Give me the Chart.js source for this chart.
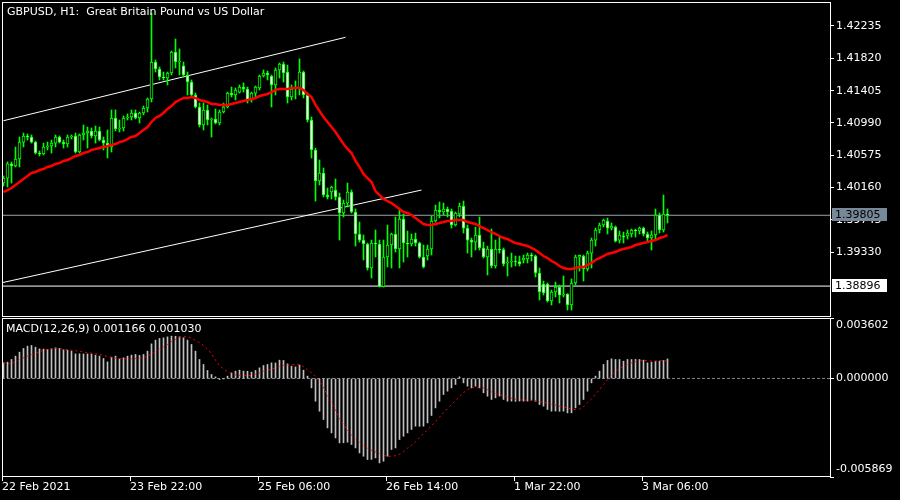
<!DOCTYPE html>
<html>
<head>
<meta charset="utf-8">
<script src="https://cdn.jsdelivr.net/npm/chart.js@4.4.1/dist/chart.umd.min.js"></script>
<style>
  html, body { margin: 0; padding: 0; background: #000; }
  #wrap { position: relative; width: 900px; height: 500px; background: #000; overflow: hidden; }
  #priceChart { position: absolute; left: 0; top: 0; }
  #macdChart { position: absolute; left: 0; top: 318px; }
</style>
</head>
<body>
<div id="wrap">
  <canvas id="priceChart" width="900" height="318"></canvas>
  <canvas id="macdChart" width="900" height="182"></canvas>
</div>
<script>
// GBPUSD H1 bars, 22 Feb 2021 14:00 onwards
var opens = [1.40219,1.40283,1.40464,1.40438,1.40527,1.40745,1.40823,1.40810,1.40745,1.40604,
  1.40592,1.40681,1.40694,1.40732,1.40810,1.40745,1.40720,1.40810,1.40823,1.40617,
  1.40836,1.40861,1.40887,1.40823,1.40887,1.40771,1.40732,1.40681,1.41054,1.40913,
  1.40926,1.41054,1.41067,1.41118,1.41054,1.41118,1.41182,1.41298,1.41773,1.41683,
  1.41580,1.41567,1.41631,1.41901,1.41773,1.41722,1.41606,1.41516,1.41349,1.41195,
  1.40964,1.41157,1.41028,1.41041,1.40990,1.41131,1.41195,1.41374,1.41349,1.41387,
  1.41452,1.41426,1.41285,1.41374,1.41439,1.41593,1.41631,1.41593,1.41478,1.41670,
  1.41747,1.41644,1.41324,1.41426,1.41439,1.41644,1.41349,1.41028,1.40643,1.40245,
  1.40347,1.40065,1.40104,1.40129,1.40040,1.39834,1.39962,1.40104,1.39847,1.39565,
  1.39487,1.39436,1.39128,1.39449,1.39436,1.38890,1.39269,1.39423,1.39565,1.39372,
  1.39757,1.39449,1.39436,1.39500,1.39449,1.39269,1.39282,1.39372,1.39731,1.39873,
  1.39847,1.39886,1.39860,1.39680,1.39821,1.39924,1.39641,1.39487,1.39461,1.39552,
  1.39385,1.39269,1.39372,1.39154,1.39372,1.39365,1.39192,1.39205,1.39218,1.39212,
  1.39231,1.39244,1.39295,1.39282,1.39064,1.38923,1.38923,1.38704,1.38820,1.38884,
  1.38781,1.38794,1.38653,1.38936,1.39269,1.39282,1.39115,1.39320,1.39487,1.39616,
  1.39680,1.39731,1.39641,1.39654,1.39487,1.39539,1.39539,1.39565,1.39616,1.39603,
  1.39641,1.39565,1.39513,1.39552,1.39808,1.39616,1.39821];
var highs = [1.40309,1.40489,1.40489,1.40681,1.40810,1.40861,1.40849,1.40836,1.40758,1.40630,
  1.40732,1.40745,1.40771,1.40836,1.40823,1.40771,1.40836,1.40836,1.40861,1.40849,
  1.40964,1.40938,1.40926,1.40951,1.40938,1.40810,1.40900,1.41157,1.41157,1.41028,
  1.41080,1.41106,1.41157,1.41157,1.41131,1.41208,1.41311,1.42402,1.41799,1.41709,
  1.41644,1.41644,1.41914,1.42068,1.41940,1.41773,1.41644,1.41542,1.41374,1.41246,
  1.41246,1.41221,1.41054,1.41170,1.41157,1.41246,1.41387,1.41452,1.41439,1.41478,
  1.41503,1.41452,1.41387,1.41465,1.41606,1.41670,1.41657,1.41606,1.41696,1.41760,
  1.41773,1.41734,1.41478,1.41529,1.41812,1.41657,1.41374,1.41067,1.40668,1.40515,
  1.40412,1.40155,1.40181,1.40271,1.40091,1.40001,1.40219,1.40129,1.39886,1.39718,
  1.39552,1.39449,1.39487,1.39616,1.39487,1.39487,1.39680,1.39577,1.39783,1.39873,
  1.39821,1.39603,1.39565,1.39577,1.39461,1.39423,1.39423,1.39796,1.39937,1.39975,
  1.39962,1.39911,1.39886,1.39847,1.39962,1.39988,1.39680,1.39513,1.39654,1.39783,
  1.39461,1.39410,1.39629,1.39487,1.39526,1.39385,1.39269,1.39320,1.39282,1.39282,
  1.39295,1.39320,1.39320,1.39295,1.39128,1.38961,1.38936,1.38845,1.38948,1.38910,
  1.39025,1.38800,1.38987,1.39295,1.39295,1.39295,1.39346,1.39513,1.39641,1.39706,
  1.39757,1.39770,1.39706,1.39667,1.39603,1.39590,1.39616,1.39629,1.39629,1.39654,
  1.39654,1.39590,1.39603,1.39886,1.39834,1.40065,1.39886];
var lows = [1.40181,1.40168,1.40219,1.40425,1.40425,1.40681,1.40771,1.40732,1.40592,1.40566,
  1.40579,1.40643,1.40604,1.40681,1.40732,1.40668,1.40681,1.40784,1.40604,1.40604,
  1.40771,1.40668,1.40797,1.40732,1.40758,1.40643,1.40540,1.40617,1.40887,1.40874,
  1.40887,1.41028,1.41028,1.41041,1.40990,1.41093,1.41131,1.41259,1.41644,1.41542,
  1.41542,1.41478,1.41606,1.41696,1.41606,1.41580,1.41349,1.41324,1.41182,1.40938,
  1.40900,1.40964,1.40810,1.40977,1.40964,1.41118,1.41182,1.41324,1.41285,1.41374,
  1.41387,1.41246,1.41259,1.41324,1.41413,1.41580,1.41542,1.41195,1.41349,1.41567,
  1.41516,1.41246,1.41285,1.41298,1.41349,1.41311,1.41003,1.40540,1.39988,1.40194,
  1.40040,1.40014,1.40014,1.40001,1.39487,1.39783,1.39911,1.39834,1.39410,1.39461,
  1.39231,1.39102,1.39000,1.39269,1.38884,1.38884,1.39141,1.39128,1.39333,1.39128,
  1.39205,1.39269,1.39410,1.39410,1.39256,1.39128,1.39231,1.39295,1.39718,1.39770,
  1.39808,1.39783,1.39641,1.39667,1.39783,1.39577,1.39320,1.39269,1.39359,1.39359,
  1.39256,1.39038,1.39128,1.39128,1.39320,1.39154,1.39025,1.39141,1.39154,1.39154,
  1.39192,1.39192,1.39218,1.39013,1.38717,1.38781,1.38691,1.38653,1.38756,1.38678,
  1.38756,1.38589,1.38589,1.38910,1.39089,1.38961,1.39089,1.39128,1.39410,1.39577,
  1.39654,1.39565,1.39616,1.39461,1.39449,1.39449,1.39500,1.39526,1.39526,1.39565,
  1.39539,1.39474,1.39359,1.39487,1.39577,1.39590,1.39706];
var closes = [1.40283,1.40464,1.40438,1.40527,1.40745,1.40823,1.40810,1.40745,1.40604,1.40592,
  1.40681,1.40694,1.40732,1.40810,1.40745,1.40720,1.40810,1.40823,1.40617,1.40836,
  1.40861,1.40887,1.40823,1.40887,1.40771,1.40732,1.40681,1.41054,1.40913,1.40926,
  1.41054,1.41067,1.41118,1.41054,1.41118,1.41182,1.41298,1.41773,1.41683,1.41580,
  1.41567,1.41631,1.41901,1.41773,1.41786,1.41606,1.41516,1.41349,1.41195,1.40964,
  1.41157,1.41028,1.41041,1.40990,1.41131,1.41195,1.41374,1.41349,1.41413,1.41452,
  1.41426,1.41272,1.41374,1.41452,1.41593,1.41631,1.41606,1.41478,1.41670,1.41747,
  1.41631,1.41324,1.41426,1.41439,1.41644,1.41349,1.41028,1.40643,1.40245,1.40347,
  1.40065,1.40040,1.40168,1.40040,1.39834,1.39962,1.40104,1.39847,1.39565,1.39487,
  1.39436,1.39128,1.39449,1.39436,1.38890,1.39269,1.39423,1.39565,1.39372,1.39757,
  1.39449,1.39436,1.39500,1.39449,1.39269,1.39141,1.39372,1.39731,1.39873,1.39847,
  1.39886,1.39847,1.39680,1.39834,1.39924,1.39641,1.39487,1.39461,1.39552,1.39385,
  1.39269,1.39372,1.39154,1.39372,1.39365,1.39180,1.39205,1.39218,1.39212,1.39180,
  1.39256,1.39295,1.39282,1.39064,1.38820,1.38807,1.38704,1.38820,1.38884,1.38781,
  1.38794,1.38653,1.38936,1.39269,1.39290,1.39115,1.39320,1.39487,1.39616,1.39680,
  1.39744,1.39641,1.39667,1.39474,1.39552,1.39526,1.39577,1.39616,1.39603,1.39641,
  1.39565,1.39513,1.39552,1.39808,1.39616,1.39821,1.39805];
// red moving average
var maValues = [1.40103,1.40129,1.40155,1.40194,1.40232,1.40271,1.40309,1.40348,1.40361,1.40386,
  1.40399,1.40425,1.40438,1.40464,1.40476,1.40502,1.40515,1.40540,1.40566,1.40579,
  1.40604,1.40617,1.40643,1.40656,1.40668,1.40681,1.40694,1.40707,1.40720,1.40745,
  1.40758,1.40784,1.40810,1.40823,1.40861,1.40900,1.40938,1.41003,1.41054,1.41080,
  1.41118,1.41170,1.41208,1.41259,1.41285,1.41311,1.41311,1.41324,1.41311,1.41285,
  1.41272,1.41259,1.41234,1.41234,1.41221,1.41221,1.41221,1.41234,1.41246,1.41259,
  1.41272,1.41285,1.41298,1.41311,1.41336,1.41349,1.41362,1.41387,1.41413,1.41426,
  1.41426,1.41426,1.41439,1.41439,1.41439,1.41413,1.41362,1.41324,1.41221,1.41144,
  1.41067,1.41003,1.40938,1.40874,1.40797,1.40720,1.40656,1.40604,1.40502,1.40425,
  1.40335,1.40283,1.40232,1.40116,1.40065,1.40014,1.39988,1.39962,1.39924,1.39886,
  1.39847,1.39834,1.39808,1.39770,1.39731,1.39693,1.39680,1.39680,1.39693,1.39706,
  1.39718,1.39731,1.39731,1.39744,1.39744,1.39744,1.39718,1.39706,1.39693,1.39667,
  1.39641,1.39616,1.39590,1.39565,1.39539,1.39513,1.39500,1.39474,1.39449,1.39436,
  1.39423,1.39410,1.39385,1.39359,1.39320,1.39282,1.39256,1.39218,1.39192,1.39154,
  1.39128,1.39115,1.39115,1.39128,1.39141,1.39141,1.39167,1.39192,1.39231,1.39256,
  1.39282,1.39308,1.39320,1.39333,1.39359,1.39372,1.39385,1.39397,1.39423,1.39436,
  1.39449,1.39461,1.39474,1.39487,1.39513,1.39526,1.39552];
// MACD(12,26,9): main (histogram) and signal (dotted)
var macdMain = [0.000930,0.000971,0.001132,0.001329,0.001567,0.001788,0.001925,0.001967,0.001865,0.001764,
  0.001750,0.001728,0.001764,0.001824,0.001788,0.001705,0.001687,0.001627,0.001466,0.001470,
  0.001462,0.001460,0.001455,0.001389,0.001329,0.001192,0.000989,0.001269,0.001329,0.001168,
  0.001228,0.001329,0.001389,0.001430,0.001371,0.001430,0.001627,0.002062,0.002283,0.002384,
  0.002420,0.002479,0.002521,0.002515,0.002479,0.002420,0.002283,0.002026,0.001627,0.001132,
  0.000834,0.000477,0.000238,0.000095,-0.000060,-0.000010,0.000137,0.000334,0.000435,0.000495,
  0.000440,0.000430,0.000375,0.000477,0.000632,0.000775,0.000834,0.000930,0.000925,0.001091,
  0.001073,0.000870,0.000733,0.000691,0.000793,0.000495,0.000137,-0.000560,-0.001353,-0.001949,
  -0.002444,-0.002944,-0.003242,-0.003540,-0.003838,-0.003830,-0.003797,-0.003934,-0.004136,-0.004434,
  -0.004631,-0.004828,-0.004820,-0.004732,-0.005030,-0.004929,-0.004631,-0.004232,-0.004136,-0.003636,
  -0.003439,-0.003242,-0.003040,-0.002843,-0.002850,-0.002838,-0.002646,-0.002205,-0.001752,-0.001353,
  -0.000954,-0.000757,-0.000560,-0.000358,0.000095,-0.000262,-0.000459,-0.000560,-0.000459,-0.000560,
  -0.000858,-0.001055,-0.001252,-0.001156,-0.001055,-0.001252,-0.001353,-0.001350,-0.001360,-0.001345,
  -0.001353,-0.001348,-0.001293,-0.001353,-0.001550,-0.001651,-0.001848,-0.001949,-0.001940,-0.001955,
  -0.001949,-0.002050,-0.002045,-0.001752,-0.001550,-0.001252,-0.000757,-0.000262,0.000137,0.000435,
  0.000834,0.001073,0.001168,0.001132,0.001130,0.001031,0.001132,0.001128,0.001135,0.001130,
  0.001091,0.000930,0.000971,0.001031,0.001035,0.001073,0.001166];
var macdSignal = [0.000930,0.000870,0.000882,0.001001,0.001120,0.001228,0.001329,0.001418,0.001508,0.001597,
  0.001687,0.001728,0.001770,0.001788,0.001776,0.001746,0.001716,0.001687,0.001651,0.001615,
  0.001579,0.001544,0.001508,0.001472,0.001430,0.001371,0.001311,0.001252,0.001210,0.001186,
  0.001168,0.001168,0.001168,0.001180,0.001210,0.001228,0.001329,0.001448,0.001597,0.001746,
  0.001865,0.002026,0.002193,0.002324,0.002461,0.002479,0.002491,0.002402,0.002265,0.002134,
  0.001967,0.001746,0.001478,0.001091,0.000763,0.000566,0.000405,0.000286,0.000215,0.000191,
  0.000179,0.000179,0.000179,0.000256,0.000328,0.000435,0.000495,0.000554,0.000626,0.000703,
  0.000775,0.000799,0.000822,0.000834,0.000834,0.000703,0.000524,0.000346,0.000107,-0.000161,
  -0.000548,-0.000995,-0.001442,-0.001919,-0.002396,-0.002754,-0.003081,-0.003379,-0.003618,-0.003797,
  -0.003975,-0.004154,-0.004273,-0.004381,-0.004470,-0.004571,-0.004631,-0.004631,-0.004601,-0.004512,
  -0.004363,-0.004154,-0.003975,-0.003767,-0.003528,-0.003290,-0.003052,-0.002813,-0.002575,-0.002307,
  -0.002038,-0.001800,-0.001562,-0.001323,-0.001085,-0.000846,-0.000668,-0.000548,-0.000519,-0.000530,
  -0.000560,-0.000668,-0.000799,-0.000906,-0.000966,-0.001013,-0.001097,-0.001174,-0.001234,-0.001269,
  -0.001293,-0.001293,-0.001293,-0.001323,-0.001371,-0.001413,-0.001472,-0.001532,-0.001591,-0.001651,
  -0.001693,-0.001752,-0.001830,-0.001854,-0.001830,-0.001681,-0.001442,-0.001234,-0.000936,-0.000668,
  -0.000358,-0.000072,0.000197,0.000405,0.000584,0.000733,0.000822,0.000930,0.001001,0.001043,
  0.001073,0.001061,0.001043,0.001031,0.001049,0.001073,0.001030];

var priceTicks = [1.42235, 1.41820, 1.41405, 1.40990, 1.40575, 1.40160, 1.39745, 1.39330];
var macdTicks = [0.003602, 0, -0.005869];
var timeTickBars = [0, 32, 64, 96, 128, 160];
var timeTickLabels = ['22 Feb 2021', '23 Feb 22:00', '25 Feb 06:00', '26 Feb 14:00', '1 Mar 22:00', '3 Mar 06:00'];
var bidPrice = 1.39805;
var levelPrice = 1.38896;
var trendUpper = [[0, 1.41019], [85.5, 1.42090]];
var trendLower = [[-0.4, 1.38939], [104.5, 1.40129]];
var chartTitle = 'GBPUSD, H1:  Great Britain Pound vs US Dollar';

var FONT = '11px "DejaVu Sans"';
var GREEN = '#00ff00';
var slots = 207;                 // bar slots visible across the window
var xMin = -0.375, xMax = xMin + slots;

function pts(pairs) { return pairs.map(function (p) { return { x: p[0], y: p[1] }; }); }
function hline(v) { return [{ x: xMin, y: v }, { x: xMax, y: v }]; }

var bodies = [], wicks = [], bodyFill = [], maPts = [];
for (var i = 0; i < closes.length; i++) {
  bodies.push({ x: i, y: [opens[i], closes[i]] });
  wicks.push({ x: i, y: [lows[i], highs[i]] });
  bodyFill.push(closes[i] >= opens[i] ? '#000000' : '#ffffff');
  maPts.push({ x: i, y: maValues[i] });
}
var histPts = macdMain.map(function (v, i) { return { x: i, y: v }; });
var sigPts = macdSignal.map(function (v, i) { return { x: i, y: v }; });

function noPad(s) { s.paddingTop = 0; s.paddingBottom = 0; s.paddingLeft = 0; s.paddingRight = 0; }

function xAxis(show) {
  return {
    type: 'linear', min: xMin, max: xMax, offset: false, display: show,
    grid: { display: true, drawOnChartArea: false, drawTicks: true, tickLength: 4, color: '#ffffff', offset: false },
    border: { display: false },
    afterBuildTicks: function (s) { s.ticks = timeTickBars.map(function (b) { return { value: b - 0.375 }; }); },
    afterFit: function (s) { noPad(s); if (show) s.height = 23; },
    ticks: {
      color: '#ffffff', font: { family: 'DejaVu Sans', size: 11 }, align: 'start',
      maxRotation: 0, autoSkip: false, padding: 0,
      callback: function (v) {
        for (var k = 0; k < timeTickBars.length; k++) {
          if (Math.abs(timeTickBars[k] - 0.375 - v) < 0.01) return timeTickLabels[k];
        }
        return '';
      }
    }
  };
}

function box(ctx, scale, price, bg, fg) {
  var py = Math.round(scale.getPixelForValue(price));
  ctx.fillStyle = bg;
  ctx.fillRect(832, py - 7, 55, 13);
  ctx.fillStyle = fg;
  ctx.fillText(price.toFixed(5), 835, py);
}

var priceDecor = {
  id: 'priceDecor',
  afterDraw: function (chart) {
    var a = chart.chartArea, ctx = chart.ctx;
    ctx.save();
    ctx.strokeStyle = '#ffffff'; ctx.lineWidth = 1;
    ctx.strokeRect(a.left + 0.5, a.top + 0.5, a.right - a.left, a.bottom - a.top);
    ctx.font = FONT; ctx.textBaseline = 'middle'; ctx.textAlign = 'left';
    ctx.fillStyle = '#ffffff';
    ctx.fillText(chartTitle, 7, 12);
    box(ctx, chart.scales.y, bidPrice, '#778899', '#000000');
    box(ctx, chart.scales.y, levelPrice, '#ffffff', '#000000');
    ctx.restore();
  }
};

var macdDecor = {
  id: 'macdDecor',
  afterDraw: function (chart) {
    var a = chart.chartArea, ctx = chart.ctx, y = chart.scales.y;
    ctx.save();
    ctx.strokeStyle = '#ffffff'; ctx.lineWidth = 1;
    ctx.strokeRect(a.left + 0.5, a.top + 0.5, a.right - a.left, a.bottom - a.top - 1);
    ctx.font = FONT; ctx.textBaseline = 'middle'; ctx.textAlign = 'left';
    ctx.fillStyle = '#ffffff';
    var n = macdMain.length - 1;
    ctx.fillText('MACD(12,26,9) ' + macdMain[n].toFixed(6) + ' ' + macdSignal[n].toFixed(6), 6, 11);
    ctx.fillText(macdTicks[0].toFixed(6), 836, a.top + 7);
    ctx.fillText(macdTicks[1].toFixed(6), 836, Math.round(y.getPixelForValue(0)));
    ctx.fillText(macdTicks[2].toFixed(6), 836, a.bottom - 8);
    ctx.restore();
  }
};

var common = {
  responsive: false, animation: false, devicePixelRatio: 1,
  plugins: { legend: { display: false }, tooltip: { enabled: false } }
};

new Chart(document.getElementById('priceChart'), {
  type: 'bar',
  data: {
    datasets: [
      { type: 'line', data: maPts, borderColor: '#ff0000', borderWidth: 2.5, pointRadius: 0, order: 1 },
      { data: bodies, backgroundColor: bodyFill, borderColor: GREEN, borderWidth: 1, borderSkipped: false,
        barThickness: 3, maxBarThickness: 3, grouped: false, order: 2 },
      { data: wicks, backgroundColor: GREEN, borderWidth: 0,
        barThickness: 1, maxBarThickness: 1, grouped: false, order: 3 },
      { type: 'line', data: pts(trendUpper), borderColor: '#ffffff', borderWidth: 1, pointRadius: 0, order: 4 },
      { type: 'line', data: pts(trendLower), borderColor: '#ffffff', borderWidth: 1, pointRadius: 0, order: 4 },
      { type: 'line', data: hline(levelPrice), borderColor: '#ffffff', borderWidth: 1, pointRadius: 0, order: 4 },
      { type: 'line', data: hline(bidPrice), borderColor: '#9aa3ad', borderWidth: 1, pointRadius: 0, order: 4 }
    ]
  },
  options: Object.assign({}, common, {
    layout: { padding: { left: 2, top: 2, right: 0, bottom: 2 } },
    scales: {
      x: xAxis(false),
      y: {
        type: 'linear', position: 'right', min: 1.38512, max: 1.42543,
        afterBuildTicks: function (s) { s.ticks = priceTicks.map(function (v) { return { value: v }; }); },
        afterFit: function (s) { noPad(s); s.width = 70; },
        grid: { drawOnChartArea: false, drawTicks: true, tickLength: 4, color: '#ffffff' },
        border: { display: false },
        ticks: { color: '#ffffff', font: { family: 'DejaVu Sans', size: 11 }, padding: 2, autoSkip: false,
          callback: function (v) { return Number(v).toFixed(5); } }
      }
    }
  }),
  plugins: [priceDecor]
});

new Chart(document.getElementById('macdChart'), {
  type: 'bar',
  data: {
    datasets: [
      { type: 'line', data: sigPts, borderColor: '#ff0000', borderWidth: 1, borderDash: [2, 3], pointRadius: 0, order: 1 },
      { data: histPts, backgroundColor: '#c0c0c0', borderWidth: 0,
        barThickness: 1, maxBarThickness: 1, grouped: false, order: 2 },
      { type: 'line', data: hline(0), borderColor: '#778899', borderWidth: 1, borderDash: [3, 2], pointRadius: 0, order: 3 }
    ]
  },
  options: Object.assign({}, common, {
    layout: { padding: { left: 2, top: 0, right: 0, bottom: 0 } },
    scales: {
      x: xAxis(true),
      y: {
        type: 'linear', position: 'right', min: macdTicks[2], max: macdTicks[0],
        afterBuildTicks: function (s) { s.ticks = macdTicks.map(function (v) { return { value: v }; }); },
        afterFit: function (s) { noPad(s); s.width = 70; },
        grid: { drawOnChartArea: false, drawTicks: true, tickLength: 4, color: '#ffffff' },
        border: { display: false },
        ticks: { display: false }
      }
    }
  }),
  plugins: [macdDecor]
});
</script>
</body>
</html>
